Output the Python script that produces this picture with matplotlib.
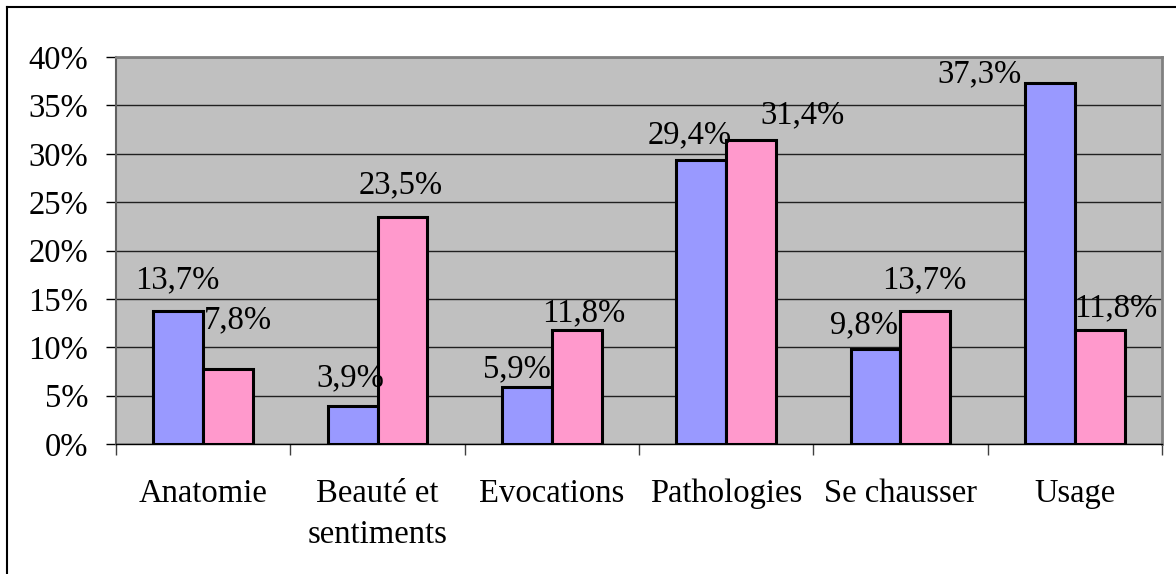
import matplotlib
matplotlib.use("Agg")
import matplotlib.pyplot as plt
from matplotlib.lines import Line2D
import numpy as np

categories = ["Anatomie", "Beauté et\nsentiments", "Evocations", "Pathologies",
              "Se chausser", "Usage"]
serie_bleue = [13.7, 3.9, 5.9, 29.4, 9.8, 37.3]
serie_rose = [7.8, 23.5, 11.8, 31.4, 13.7, 11.8]
yticks = [0, 5, 10, 15, 20, 25, 30, 35, 40]
ytick_labels = ["0%", "5%", "10%", "15%", "20%", "25%", "30%", "35%", "40%"]

# label offsets (pixels) as placed by hand in the original chart
off_bleue = [(-1, 23), (-2, 20), (-10, 10), (-12, 16), (-12, 16), (-70, 1)]
off_rose = [(10, 40), (-2, 23), (7, 9), (51, 17), (-1, 23), (16, 14)]

plt.rcParams['font.family'] = ['Liberation Serif', 'DejaVu Serif']
FS = 23.5
W, H = 1176, 574

fig = plt.figure(figsize=(W / 100, H / 100), dpi=100, facecolor='w')
ax = fig.add_axes([116 / W, (H - 444) / H, (1162 - 116) / W, (444 - 57) / H])
ax.set_facecolor('#C0C0C0')

x = np.arange(len(categories))
w = 1 / 3.5
b1 = ax.bar(x - w / 2, serie_bleue, w, color='#9999FF', edgecolor='black',
            linewidth=2.2, zorder=3)
b2 = ax.bar(x + w / 2, serie_rose, w, color='#FF99CC', edgecolor='black',
            linewidth=2.2, zorder=3)

for bars, vals, offs in ((b1, serie_bleue, off_bleue), (b2, serie_rose, off_rose)):
    for bar, v, (dx, dy) in zip(bars, vals, offs):
        ax.annotate(("%.1f%%" % v).replace(".", ","),
                    (bar.get_x() + bar.get_width() / 2, bar.get_height()),
                    xytext=(dx, dy), textcoords='offset pixels',
                    ha='center', va='baseline', fontsize=FS, zorder=5)

ax.set_xlim(-0.5, len(categories) - 0.5)
ax.set_ylim(0, 40)
ax.set_yticks(yticks)
ax.set_yticklabels(ytick_labels, fontsize=FS)
ax.yaxis.grid(True, color='#202020', linewidth=1.0)
ax.set_axisbelow(True)
ax.tick_params(axis='y', length=7, width=1, color='black', pad=13)

ax.set_xticks(x)
ax.set_xticklabels(categories, fontsize=FS, linespacing=1.42)
ax.tick_params(axis='x', which='major', length=0, pad=25)
ax.set_xticks(np.arange(len(categories) + 1) - 0.5, minor=True)
ax.tick_params(axis='x', which='minor', length=8, width=1, color='#404040',
               direction='out')

for s in ['top', 'right']:
    ax.spines[s].set_color('#808080')
    ax.spines[s].set_linewidth(2)
ax.spines['left'].set_color('#606060')
ax.spines['left'].set_linewidth(1.5)
ax.spines['bottom'].set_color('black')
ax.spines['bottom'].set_linewidth(1)

# outer chart border (only top and left visible)
fig.add_artist(Line2D([6.5 / W, 1.0], [1 - 6.5 / H, 1 - 6.5 / H],
                      color='black', linewidth=1.5, transform=fig.transFigure))
fig.add_artist(Line2D([6.5 / W, 6.5 / W], [0, 1 - 6.5 / H],
                      color='black', linewidth=1.5, transform=fig.transFigure))

fig.savefig("out.png", dpi=100)
